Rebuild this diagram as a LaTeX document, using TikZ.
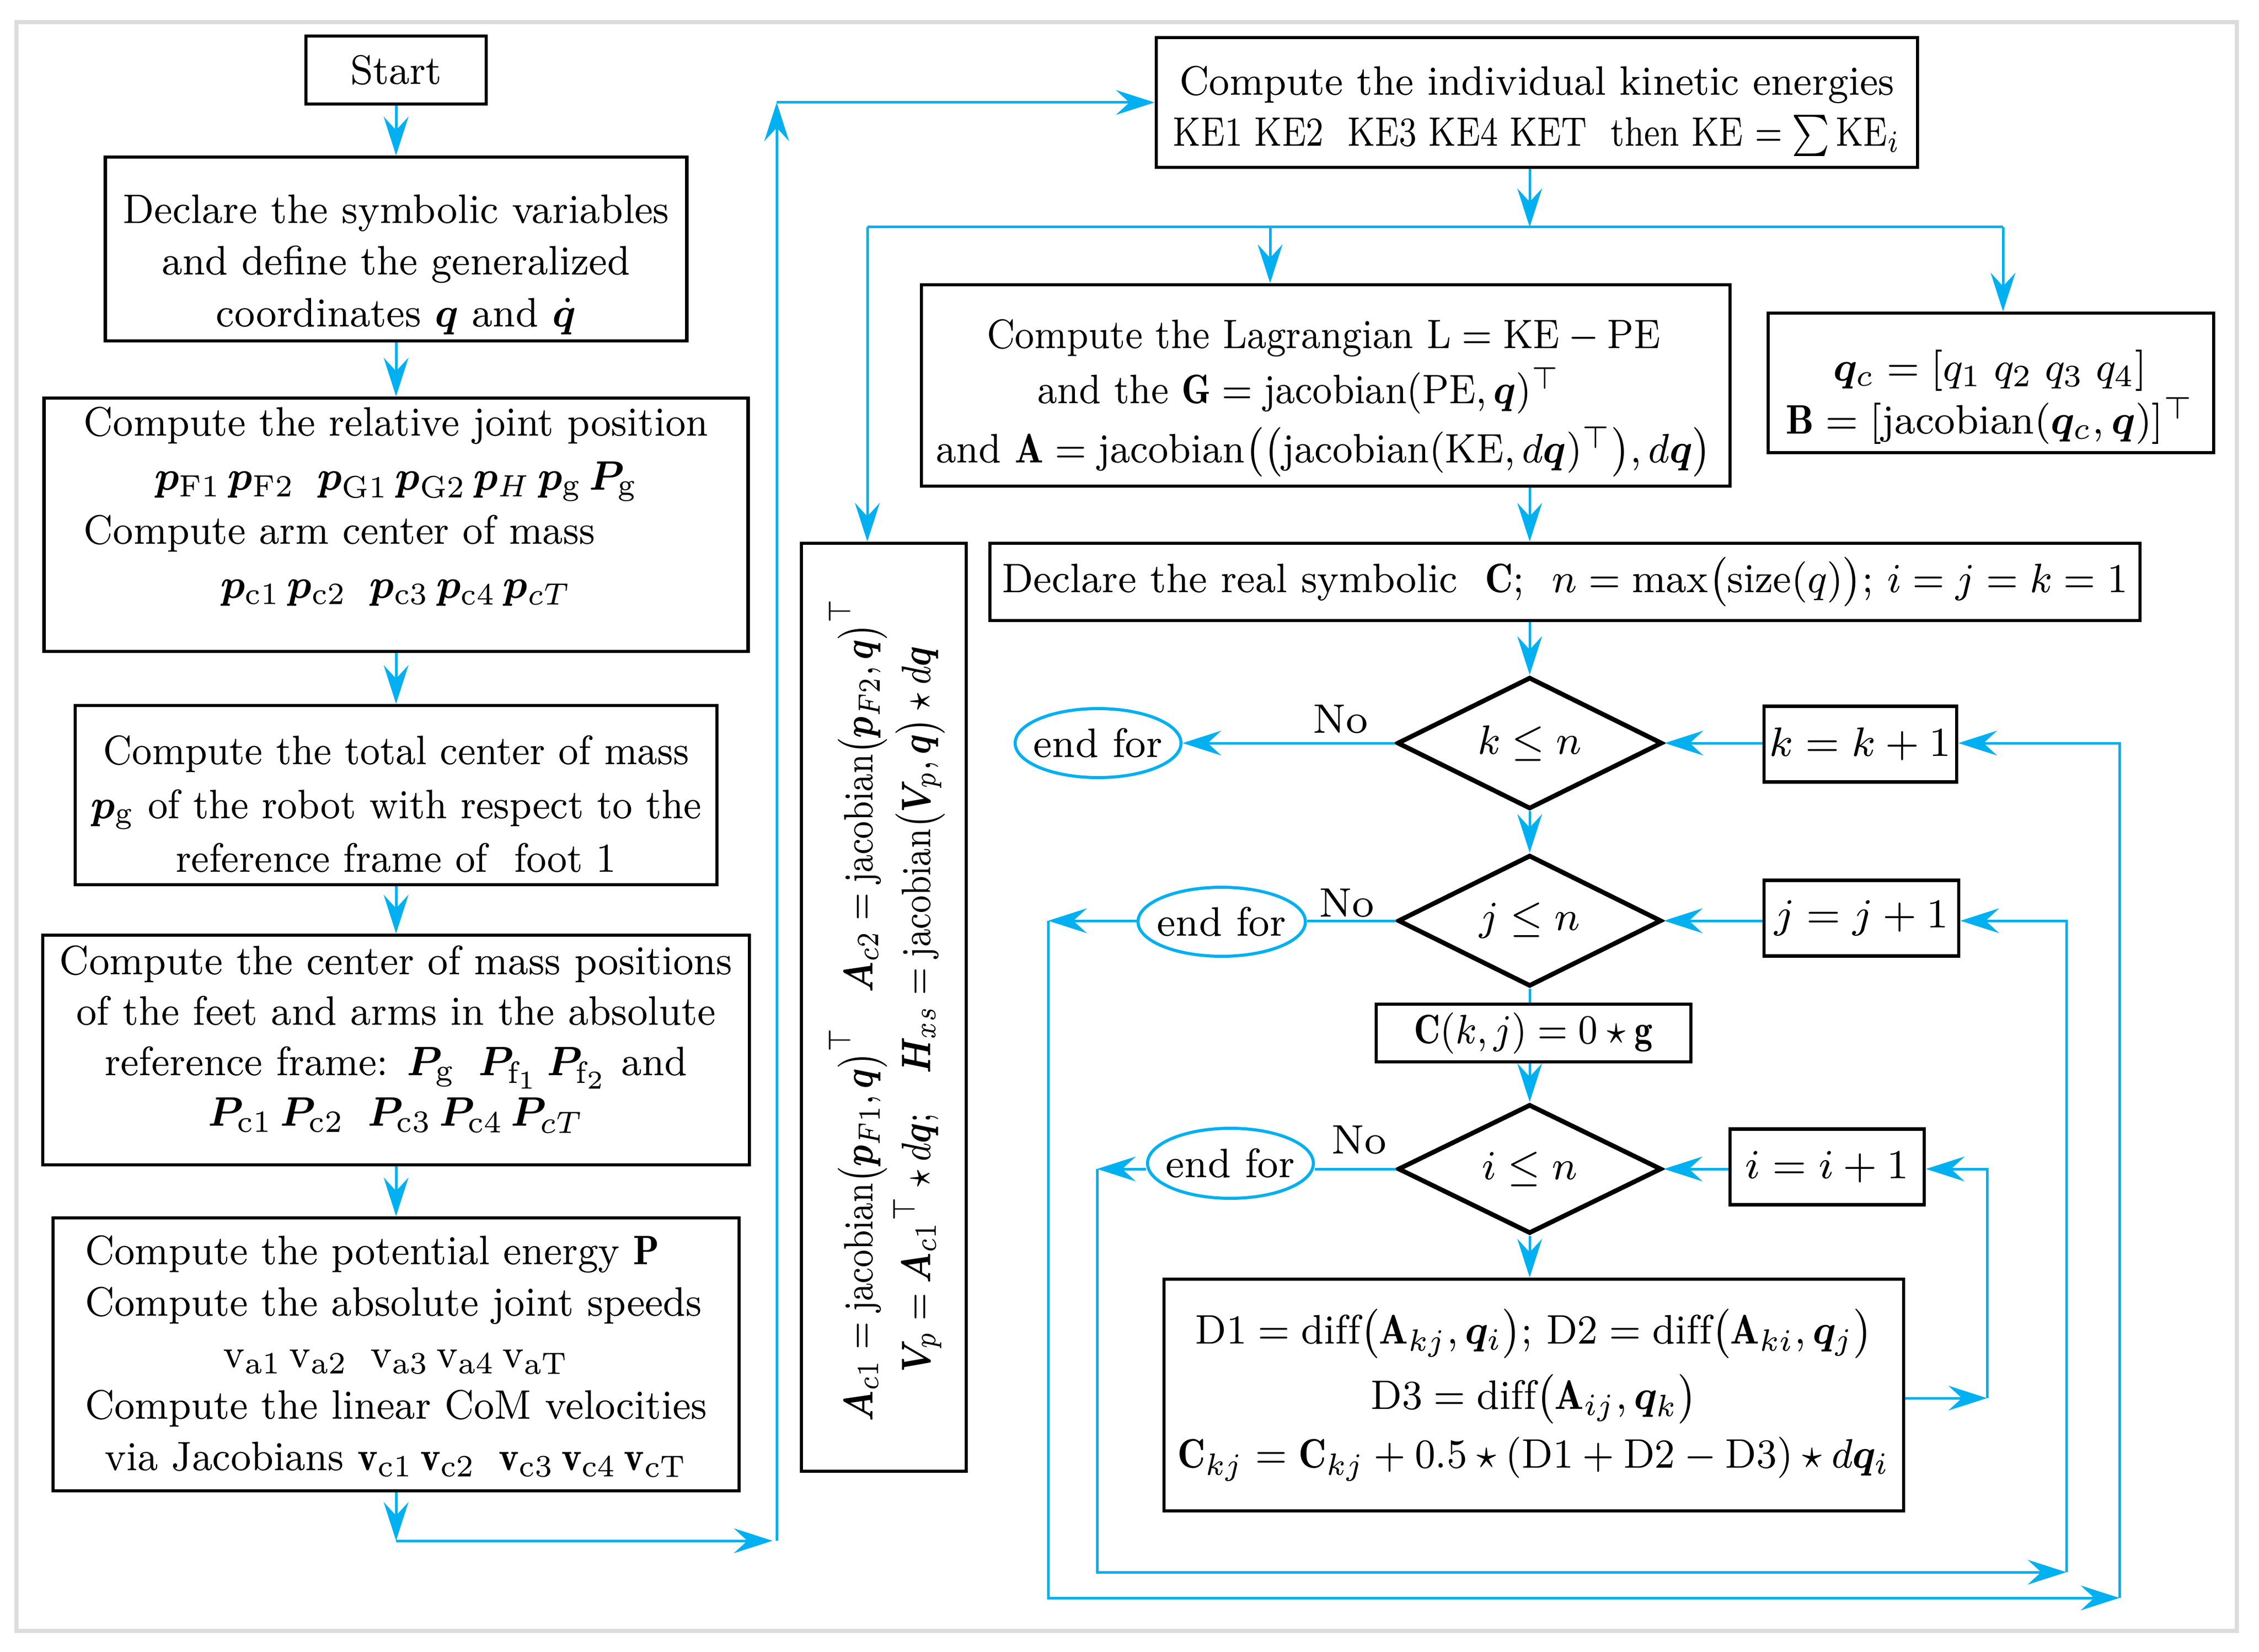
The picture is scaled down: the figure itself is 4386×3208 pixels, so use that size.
\documentclass[tikz,border=0pt]{standalone}
\usepackage{amsmath,amssymb}
\usepackage{bm}
\usepackage{graphicx}
\usepackage{fontspec}
\usetikzlibrary{shapes.geometric,arrows.meta}
\definecolor{cy}{RGB}{0,176,240}
\definecolor{framegray}{RGB}{220,220,220}
\newcommand\myfs[1]{\fontsize{8}{#1}\selectfont}
\newcommand\hs[2]{\scalebox{#1}[1]{#2}}
\begin{document}
\begin{tikzpicture}[x=0.1pt,y=-0.1pt,
  box/.style={draw=black, line width=0.65pt, inner sep=0pt, font=\myfs{10}},
  txt/.style={inner sep=0pt, font=\myfs{10}, align=center},
  dia/.style={diamond, aspect=2, draw=black, line width=0.9pt, inner sep=0pt, font=\myfs{10}},
  endf/.style={ellipse, draw=cy, line width=0.6pt, inner sep=0pt, font=\myfs{10}},
  arr/.style={draw=cy, line width=0.5pt, -{Stealth[length=7.5pt,width=4.8pt,inset=2.6pt]}},
  cline/.style={draw=cy, line width=0.5pt}]
\useasboundingbox (0,0) rectangle (4386,3208);
\draw[draw=framegray, line width=0.75pt] (32,43) rectangle (4343,3167);

% ---------- left column ----------
\node[box, minimum width=35pt, minimum height=13.2pt] (start) at (769,136) {\hs{0.94}{Start}};
\node[box, minimum width=112.9pt, minimum height=35.7pt] (decl) at (769,483.5) {};
\node[txt] (declt) at (769,513.5) {\myfs{10.05}\hs{0.94}{\begin{tabular}{@{}c@{}}Declare the symbolic variables\\ and define the generalized\\ coordinates $\bm q$ and $\dot{\bm q}$\end{tabular}}};

\node[box, minimum width=136.7pt, minimum height=49.2pt] (rel) at (769,1019) {};
\node[txt] (relt) at (769,983) {\myfs{10.5}\hs{0.925}{\begin{tabular}{@{}l@{}}Compute the relative joint position\\
 \multicolumn{1}{@{}c@{}}{$\bm p_{\mathrm{F1}}\,\bm p_{\mathrm{F2}}\;\;\bm p_{\mathrm{G1}}\,\bm p_{\mathrm{G2}}\,\bm p_{H}\,\bm p_{\mathrm{g}}\,\bm P_{\mathrm{g}}$}\\
 Compute arm center of mass\\
 \multicolumn{1}{@{}c@{}}{$\bm p_{\mathrm{c1}}\,\bm p_{\mathrm{c2}}\;\;\bm p_{\mathrm{c3}}\,\bm p_{\mathrm{c4}}\,\bm p_{cT}$}\end{tabular}}};

\node[box, minimum width=124.6pt, minimum height=34.8pt] (tot) at (769,1544) {};
\node[txt] (tott) at (769,1568) {\myfs{10.5}\hs{0.912}{\begin{tabular}{@{}c@{}}Compute the total center of mass\\ $\bm p_{\mathrm g}$ of the robot with respect to the\\ reference frame of\ \ foot 1\end{tabular}}};

\node[box, minimum width=137.2pt, minimum height=44.6pt] (pos) at (769,2039) {};
\node[txt] (post) at (769,2020) {\myfs{9.8}\hs{0.932}{\begin{tabular}{@{}c@{}}Compute the center of mass positions\\ of the feet and arms in the absolute\\ reference frame: $\bm P_{\mathrm g}\;\;\bm P_{\mathrm f_1}\,\bm P_{\mathrm f_2}$ and\\ $\bm P_{\mathrm{c1}}\,\bm P_{\mathrm{c2}}\;\;\bm P_{\mathrm{c3}}\,\bm P_{\mathrm{c4}}\,\bm P_{cT}$\end{tabular}}};

\node[box, minimum width=133.2pt, minimum height=53pt] (pot) at (769,2630) {};
\node[txt] (pott) at (769,2635) {\myfs{10}\hs{0.93}{\begin{tabular}{@{}l@{}}Compute the potential energy $\mathbf P$\\ Compute the absolute joint speeds\\
 \multicolumn{1}{@{}c@{}}{$\mathrm v_{\mathrm{a1}}\,\mathrm v_{\mathrm{a2}}\;\;\mathrm v_{\mathrm{a3}}\,\mathrm v_{\mathrm{a4}}\,\mathrm v_{\mathrm{aT}}$}\\
 Compute the linear CoM velocities\\
 \multicolumn{1}{@{}c@{}}{via Jacobians $\mathbf v_{\mathrm{c1}}\,\mathbf v_{\mathrm{c2}}\;\;\mathbf v_{\mathrm{c3}}\,\mathbf v_{\mathrm{c4}}\,\mathbf v_{\mathrm{cT}}$}\end{tabular}}};

% ---------- right part ----------
\node[box, minimum width=147.8pt, minimum height=25.2pt] (ke) at (2984,199) {};
\node[txt] (ket) at (2984,214.5) {\myfs{9.9}\begin{tabular}{@{}c@{}}\hs{0.936}{Compute the individual kinetic energies}\\ \hs{0.81}{KE1 KE2\ \ KE3 KE4 KET\ \ then KE $=\textstyle\sum\mathrm{KE}_i$}\end{tabular}};

\node[box, minimum width=157pt, minimum height=39.1pt] (lag) at (2574,748.5) {};
\node[txt] (lagt) at (2570,766) {\myfs{10.7}\begin{tabular}{@{}c@{}}\hs{0.89}{Compute the Lagrangian $\mathrm L=\mathrm{KE}-\mathrm{PE}$}\\ \hs{0.90}{and the $\mathbf G=\mathrm{jacobian}(\mathrm{PE},\bm q)^{\top}$}\hspace*{9.6pt}\\[0.8pt] \hs{0.925}{and $\mathbf A=\mathrm{jacobian}\bigl(\bigl(\mathrm{jacobian}(\mathrm{KE},d\bm q)^{\top}\bigr),d\bm q\bigr)$}\end{tabular}};

\node[box, minimum width=86.5pt, minimum height=27.1pt] (qc) at (3865.5,743.5) {};
\node[txt] (qct) at (3864,770) {\myfs{10.3}\hs{0.96}{\begin{tabular}{@{}c@{}}$\bm q_c=[q_1\;q_2\;q_3\;q_4]$\\ $\mathbf B=[\mathrm{jacobian}(\bm q_c,\bm q)]^{\top}$\end{tabular}}};

\node[box, minimum width=32pt, minimum height=180.2pt] (rot) at (1716,1956) {};
\node[txt, rotate=90] (rott) at (1725,1960) {\myfs{11.2}\hs{0.81}{\begin{tabular}{@{}c@{}}$\bm A_{c1}=\mathrm{jacobian}\bigl(\bm p_{F1},\bm q\bigr)^{\top}\quad\bm A_{c2}=\mathrm{jacobian}\bigl(\bm p_{F2},\bm q\bigr)^{\top}$\\ $\bm V_p={\bm A_{c1}}^{\top}\star d\bm q;\quad\bm H_{xs}=\mathrm{jacobian}\bigl(\bm V_p,\bm q\bigr)\star d\bm q$\end{tabular}}};

\node[box, minimum width=223.3pt, minimum height=15pt] (dr) at (3038.5,1130) {\hs{0.94}{Declare the real symbolic\ \ $\mathbf C$;\ \ $n=\max\bigl(\mathrm{size}(q)\bigr)$; $i=j=k=1$}};

\node[dia, minimum width=51.5pt, minimum height=25.6pt] (kd) at (2970,1443) {\hs{0.956}{$k\le n$}};
\node[dia, minimum width=51.2pt, minimum height=25.5pt] (jd) at (2970,1788) {\hs{0.956}{$j\le n$}};
\node[box, minimum width=61.1pt, minimum height=11.2pt] (cb) at (2977.5,2006) {\hs{0.886}{$\mathbf C(k,j)=0\star\mathbf g$}};
\node[dia, minimum width=51.2pt, minimum height=25.1pt] (id) at (2970,2270) {\hs{0.956}{$i\le n$}};
\node[box, minimum width=143.6pt, minimum height=45pt] (db) at (2978,2709) {};
\node[txt] (dbt) at (2978,2710) {\myfs{10}\hs{0.935}{\begin{tabular}{@{}c@{}}$\mathrm{D1}=\mathrm{diff}\bigl(\mathbf A_{kj},\bm q_i\bigr)$; $\mathrm{D2}=\mathrm{diff}\bigl(\mathbf A_{ki},\bm q_j\bigr)$\\[2.7pt] $\mathrm{D3}=\mathrm{diff}\bigl(\mathbf A_{ij},\bm q_k\bigr)$\\[1.4pt] $\mathbf C_{kj}=\mathbf C_{kj}+0.5\star(\mathrm{D1}+\mathrm{D2}-\mathrm{D3})\star d\bm q_i$\end{tabular}}};

\node[endf, minimum width=32.2pt, minimum height=13.4pt] (e1) at (2132,1443) {\makebox[18pt]{\hs{0.955}{end for}}};
\node[endf, minimum width=32.5pt, minimum height=13.4pt] (e2) at (2372,1790) {\makebox[18pt]{\hs{0.955}{end for}}};
\node[endf, minimum width=32.2pt, minimum height=13.6pt] (e3) at (2389,2259) {\makebox[18pt]{\hs{0.955}{end for}}};

\node[box, minimum width=37.4pt, minimum height=14.7pt] (kk) at (3612,1445) {$k=k+1$};
\node[box, minimum width=37.8pt, minimum height=14.7pt] (jj) at (3614,1783) {$j=j+1$};
\node[box, minimum width=37.7pt, minimum height=14.7pt] (ii) at (3547.5,2266) {$i=i+1$};

\node[txt] (no1) at (2603,1397) {No};
\node[txt] (no2) at (2615,1754) {No};
\node[txt] (no3) at (2639,2214) {No};

% ---------- coordinates ----------
\coordinate (a1) at (769,2992);
\coordinate (a2) at (1500,2992);
\coordinate (a3) at (1508,2992);
\coordinate (a4) at (1508,199);
\coordinate (j0) at (2970,441);
\coordinate (bl) at (1684,441);
\coordinate (bm) at (2466,441);
\coordinate (br) at (3889,441);
\coordinate (c2) at (2035,1788);
\coordinate (c3) at (2130,2270);
\coordinate (c4) at (3858,2715);
\coordinate (c5) at (4012,3053);
\coordinate (c6) at (4115,3103);

% ---------- connectors ----------
\draw[arr] (start) -- (decl);
\draw[arr] (decl) -- (rel);
\draw[arr] (rel) -- (tot);
\draw[arr] (tot) -- (pos);
\draw[arr] (pos) -- (pot);
\draw[arr] (pot) -- (a1);
\draw[arr] (a1) -- (a2);
\draw[arr] (a3) -- (a4);
\draw[arr] (a4) -- (ke);
\draw[arr] (ke.south -| j0) -- (j0);
\draw[cline] (bl) -- (br);
\draw[arr] (bl) -- (bl |- rot.north);
\draw[arr] (bm) -- (bm |- lag.north);
\draw[arr] (br) -- (br |- qc.north);
\draw[arr] (j0 |- lag.south) -- (j0 |- dr.north);
\draw[arr] (j0 |- dr.south) -- (kd.north);
\draw[arr] (kd) -- (jd);
\draw[cline] (jd.south) -- (jd.south |- cb.north);
\draw[arr] (cb.south -| id.north) -- (id.north);
\draw[arr] (id.south) -- (id.south |- db.north);
\draw[arr] (kd.west) -- (kd.west -| e1.east);
\draw[arr] (kd.east -| kk.west) -- (kd.east);
\draw[cline] (jd.west) -- (jd.west -| e2.east);
\draw[arr] (e2.west |- c2) -- (c2);
\draw[arr] (jd.east -| jj.west) -- (jd.east);
\draw[cline] (id.west) -- (id.west -| e3.east);
\draw[arr] (e3.west |- c3) -- (c3);
\draw[arr] (id.east -| ii.west) -- (id.east);
\draw[arr] (db.east |- c4) -- (c4);
\draw[arr] (c4) |- (ii.east |- id.east);
\draw[arr] (c3) |- (c5);
\draw[arr] (c5) |- (jj.east |- jd.east);
\draw[arr] (c2) |- (c6);
\draw[arr] (c6) |- (kk.east |- kd.east);
\end{tikzpicture}
\end{document}
